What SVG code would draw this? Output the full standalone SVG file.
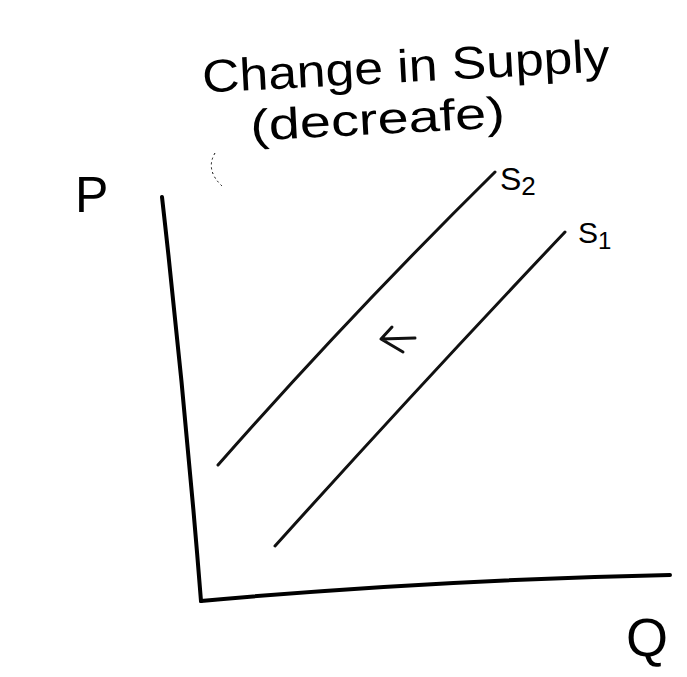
<svg xmlns="http://www.w3.org/2000/svg" width="687" height="677" viewBox="0 0 687 677">
<style>
.ax{fill:none;stroke:#000;stroke-width:4;stroke-linecap:round}
.cv{fill:none;stroke:#111;stroke-width:3;stroke-linecap:round}
.t{font-family:"Liberation Sans",Arial,sans-serif;fill:#000}
</style>
<rect width="687" height="677" fill="#fff"/>
<g id="title">
<text class="t" x="202" y="82" font-size="46" textLength="408" lengthAdjust="spacingAndGlyphs" transform="rotate(-3 405 70)">Change in Supply</text>
<text class="t" x="250" y="134" font-size="44" textLength="255" lengthAdjust="spacingAndGlyphs" transform="rotate(-3 378 120)">(decreafe)</text>
</g>
<g id="axes">
<path class="ax" d="M162,197 Q185,400 201,601"/>
<path class="ax" d="M201,601 Q430,580 670,575"/>
</g>
<g id="labels">
<text class="t" x="75" y="212" font-size="50">P</text>
<text class="t" x="626" y="656" font-size="54">Q</text>
<text class="t" x="500" y="190" font-size="32">S<tspan font-size="26" dy="5">2</tspan></text>
<text class="t" x="578" y="243" font-size="30">S<tspan font-size="24" dy="6">1</tspan></text>
</g>
<g id="curves">
<path id="s2" class="cv" d="M218,465 Q350,315 495,172"/>
<path id="s1" class="cv" d="M275,546 Q420,385 565,232"/>
</g>
<g id="connectors">
<path class="cv" d="M415,338 L381,339 M381,339 L392,327 M381,339 L403,352"/>
</g>
<g id="mark">
<path d="M215,153 Q205,170 222,186" fill="none" stroke="#000" stroke-width="1" stroke-dasharray="2 3"/>
</g>
</svg>
